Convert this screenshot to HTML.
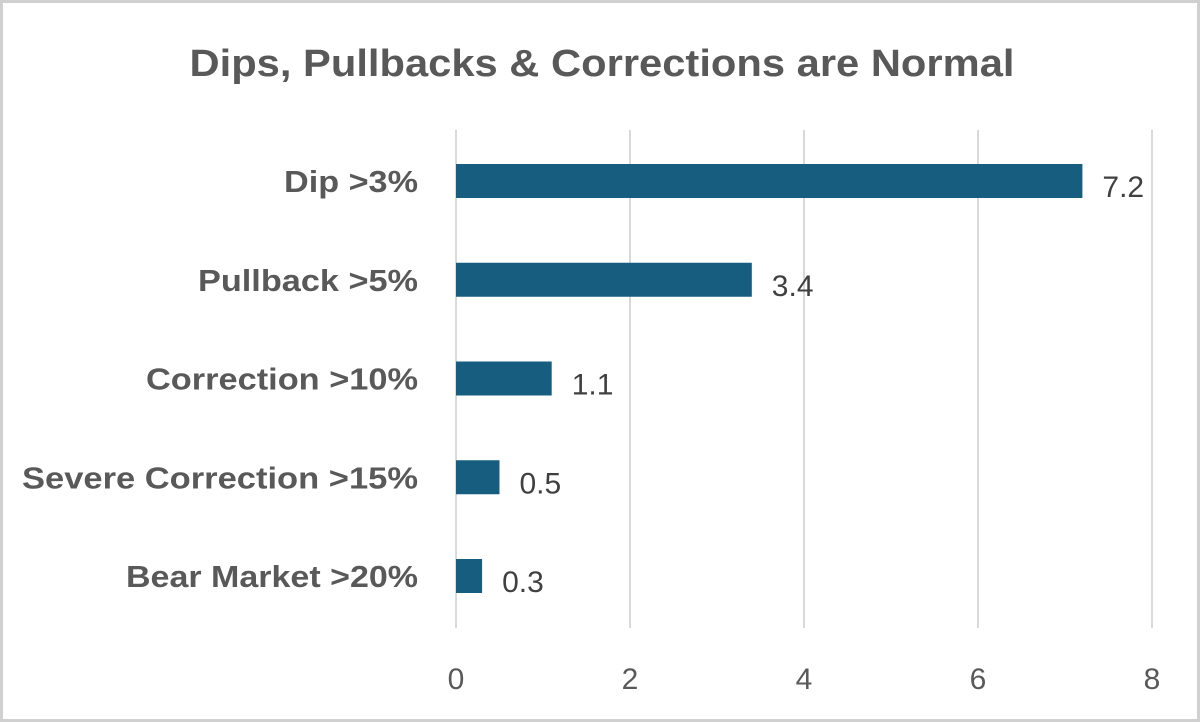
<!DOCTYPE html>
<html><head><meta charset="utf-8"><style>
html,body{margin:0;padding:0;background:#fff}
svg{display:block;font-family:"Liberation Sans",sans-serif}
</style></head><body>
<svg id="chart" width="1200" height="722" viewBox="0 0 1200 722">
<rect x="1.5" y="1.5" width="1197" height="719" fill="#fff" stroke="#d0d0d0" stroke-width="3"/>
<text x="602" y="76" text-anchor="middle" font-size="38" font-weight="bold" fill="#595959" textLength="825" lengthAdjust="spacingAndGlyphs">Dips, Pullbacks &amp;  Corrections are Normal</text>
<g id="grid"></g><g id="bars"></g><g id="labels"></g>
</svg>
<script>
const categories=["Dip >3%","Pullback >5%","Correction >10%","Severe Correction >15%","Bear Market >20%"];
const values=[7.2,3.4,1.1,0.5,0.3];
const valueLabels=["7.2","3.4","1.1","0.5","0.3"];
const ticks=[0,2,4,6,8];
const catWidths=[134,220,272,396,292];
const NS="http://www.w3.org/2000/svg";
const x=v=>456+v*(1152-456)/8;
const y=i=>181+i*98.75;
function mk(t,a,p){const e=document.createElementNS(NS,t);for(const k in a)e.setAttribute(k,a[k]);p.appendChild(e);return e;}
const grid=document.getElementById('grid'),bars=document.getElementById('bars'),labels=document.getElementById('labels');
ticks.forEach(t=>{
 const l=mk('line',{x1:x(t),x2:x(t),y1:130,y2:628,stroke:'#d9d9d9','stroke-width':2},grid);
 
 
 const tx=mk('text',{x:x(t),y:689,'text-anchor':'middle','font-size':30,fill:'#595959'},grid);
 tx.textContent=String(t);
 
 
});
categories.forEach((c,i)=>{
 const r=mk('rect',{x:x(0),y:y(i)-17,width:x(values[i])-x(0),height:34,fill:'#175d80'},bars);
 
 
 const cl=mk('text',{x:418,y:y(i)+11,'text-anchor':'end','font-size':31,'font-weight':'bold',fill:'#595959',textLength:catWidths[i],lengthAdjust:'spacingAndGlyphs'},labels);
 cl.textContent=c;
 
 
 const vl=mk('text',{x:x(values[i])+20,y:y(i)+16,'font-size':30,fill:'#404040'},labels);
 vl.textContent=valueLabels[i];
 
 
});
</script>
</body></html>
